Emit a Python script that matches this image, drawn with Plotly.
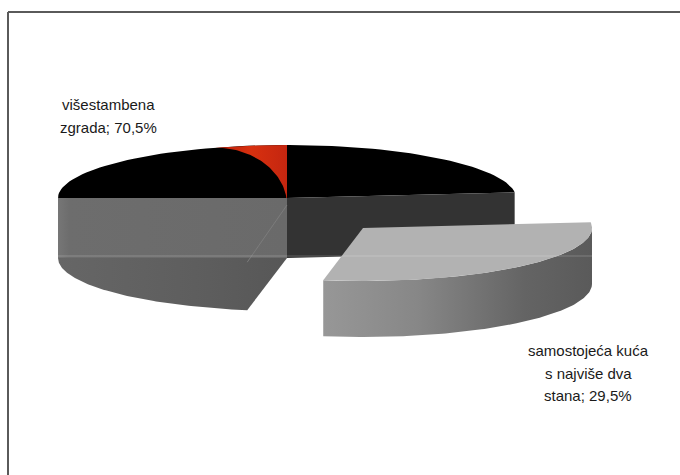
import numpy as np
import plotly.graph_objects as go

# ---- data ----
categories = ["višestambena zgrada", "samostojeća kuća s najviše dva stana"]
values = [70.5, 29.5]
label_lines = [["višestambena", "zgrada; 70,5%"],
               ["samostojeća kuća", "s najviše dva", "stana; 29,5%"]]

# ---- layout parameters (pixel space) ----
W, H = 680, 475
cx, cy, rx, ry = 287, 198, 229, 53
depth = 60
rotation = 190.0          # start angle of first slice (deg, clockwise from 12 o'clock)
exp_off = (76, 30)        # offset of exploded slice
exp_depth = 56
label_pos = [(108, [104, 127]), (588, [350, 373, 395])]

tot = sum(values)
bounds = rotation + 360.0 * np.cumsum([0] + values) / tot


def pt(theta, z=0.0, ox=0.0, oy=0.0):
    t = np.radians(theta)
    return cx + ox + rx * np.sin(t), cy + oy - ry * np.cos(t) + z


def arc(a, b, z=0.0, ox=0.0, oy=0.0, n=120):
    th = np.linspace(a, b, n)
    x, y = pt(th, z, ox, oy)
    return list(x), list(y)


fig = go.Figure()


def poly(xs, ys, color=None, grad=None, line=None):
    kw = dict(x=xs + [xs[0]], y=ys + [ys[0]], mode="lines", fill="toself",
              hoverinfo="skip", showlegend=False,
              line=dict(width=0 if line is None else line[1],
                        color="rgba(0,0,0,0)" if line is None else line[0]))
    if grad is not None:
        kw["fillgradient"] = dict(type="horizontal", colorscale=grad)
    else:
        kw["fillcolor"] = color
    fig.add_trace(go.Scatter(**kw))


a0, a1 = bounds[0], bounds[1]
b0, b1 = bounds[1], bounds[2]

# main slice: top face (black)
x, y = arc(a0, a1)
poly([cx] + x, [cy] + y, color="#000000")

# red sliver near 12 o'clock
red_span = 18.3
xt, yt = arc(360 - red_span, 360)
rx0, ry0 = xt[0], cy + 7
phi = np.radians(np.linspace(90, 0, 60))
xc = list(rx0 + (cx - rx0) * np.sin(phi))
yc = list(ry0 - (ry0 - yt[0]) * np.cos(phi))
poly(xt + [cx] + xc, yt + [ry0] + yc,
     grad=[[0, "#b81e08"], [0.5, "#d8300f"], [1, "#c42610"]])

# main slice: radial cut face at boundary a1 (dark)
px, py = pt(a1)
qx, qy = pt(a1, depth)
poly([cx, px, qx, cx], [cy, py, qy, cy + depth], color="#333333")

# main slice: left band (front of slice)
lx, ly = pt(270)
poly([cx, lx, lx, cx], [cy, ly, ly + depth, cy + depth],
     grad=[[0, "#767676"], [0.05, "#6d6d6d"], [1, "#6a6a6a"]])

# main slice: lower bulge (bottom of wall)
x, y = arc(270, a0, depth)
poly(x + [cx], y + [cy + depth],
     grad=[[0, "#666666"], [0.6, "#5e5e5e"], [1, "#575757"]])

# faint radial edge of main slice
ex, ey = pt(a0)
fig.add_trace(go.Scatter(x=[cx, ex], y=[cy + 7, ey + 12], mode="lines",
                         line=dict(color="#7c7c7c", width=1),
                         hoverinfo="skip", showlegend=False))

# exploded slice
ox, oy = exp_off
x1, y1 = arc(max(b0, 450), b1, 0, ox, oy)
x2, y2 = arc(b1, max(b0, 450), exp_depth, ox, oy)
poly(x1 + x2, y1 + y2,
     grad=[[0, "#979797"], [0.35, "#878787"], [0.75, "#646464"], [1, "#5a5a5a"]])
x, y = arc(b0, b1, 0, ox, oy)
poly([cx + ox] + x, [cy + oy] + y, color="#b2b2b2")

# faint horizontal artifact line
fig.add_trace(go.Scatter(x=[lx, pt(90, 0, ox)[0]], y=[cy + depth - 2, cy + depth - 2],
                         mode="lines", line=dict(color="rgba(255,255,255,0.22)", width=1),
                         hoverinfo="skip", showlegend=False))

# labels
annotations = []
for (lxp, ys), lines in zip(label_pos, label_lines):
    for yy, t in zip(ys, lines):
        annotations.append(dict(x=lxp, y=yy, text=t, showarrow=False,
                                xanchor="center", yanchor="middle",
                                font=dict(family="Liberation Sans, Arial", size=15,
                                          color="#1a1a1a")))

fig.update_layout(
    width=W, height=H, margin=dict(l=0, r=0, t=0, b=0),
    paper_bgcolor="white", plot_bgcolor="white",
    xaxis=dict(range=[0, W], visible=False, fixedrange=True),
    yaxis=dict(range=[H, 0], visible=False, fixedrange=True),
    annotations=annotations,
    shapes=[
        dict(type="line", xref="paper", yref="paper", x0=8 / W, x1=1, y0=1 - 12 / H, y1=1 - 12 / H,
             line=dict(color="#5a5a5a", width=2)),
        dict(type="line", xref="paper", yref="paper", x0=8 / W, x1=8 / W, y0=0, y1=1 - 12 / H,
             line=dict(color="#5a5a5a", width=2)),
    ],
)

fig.write_html("out.html")
